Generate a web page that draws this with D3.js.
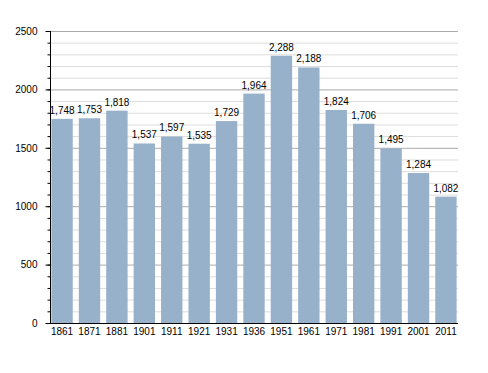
<!DOCTYPE html>
<html>
<head>
<meta charset="utf-8">
<script src="https://cdn.jsdelivr.net/npm/d3@7"></script>
<style>
  body { margin: 0; background: #fff; }
  text { font-family: "Liberation Sans", Arial, sans-serif; }
</style>
</head>
<body>
<svg width="488" height="373"></svg>
<script>
var years = ["1861", "1871", "1881", "1901", "1911", "1921", "1931", "1936", "1951", "1961", "1971", "1981", "1991", "2001", "2011"];
var population = [1748, 1753, 1818, 1537, 1597, 1535, 1729, 1964, 2288, 2188, 1824, 1706, 1495, 1284, 1082];
var yTicks = [0, 500, 1000, 1500, 2000, 2500];

var data = years.map(function(y, i) { return {year: y, value: population[i]}; });

var svg = d3.select("svg"),
    margin = {top: 31, right: 30, bottom: 50, left: 50},
    width = 458 - margin.left,
    height = 323 - margin.top,
    g = svg.append("g").attr("transform", "translate(" + margin.left + "," + margin.top + ")");

var x = d3.scaleBand().domain(years).range([0, width]).paddingInner(0.22).paddingOuter(0.05),
    y = d3.scaleLinear().domain([0, 2500]).range([height, 0]);

var fmt = d3.format(",");

// minor gridlines every 100
g.append("g")
  .selectAll("line")
  .data(d3.range(100, 2500, 100).filter(function(d) { return d % 500 !== 0; }))
  .enter().append("line")
    .attr("x1", 0).attr("x2", width)
    .attr("y1", function(d) { return y(d) + 0.5; })
    .attr("y2", function(d) { return y(d) + 0.5; })
    .attr("stroke", "#dddddd");

// major gridlines
g.append("g")
  .selectAll("line")
  .data(yTicks.slice(1))
  .enter().append("line")
    .attr("x1", 0).attr("x2", width)
    .attr("y1", function(d) { return y(d) + 0.5; })
    .attr("y2", function(d) { return y(d) + 0.5; })
    .attr("stroke", "#aaaaaa");

g.selectAll(".bar")
  .data(data)
  .enter().append("rect")
    .attr("class", "bar")
    .attr("x", function(d) { return x(d.year); })
    .attr("y", function(d) { return y(d.value); })
    .attr("width", x.bandwidth())
    .attr("height", function(d) { return height - y(d.value); })
    .attr("fill", "#98b1cb");

g.selectAll(".label")
  .data(data)
  .enter().append("text")
    .attr("class", "label")
    .attr("x", function(d) { return x(d.year) + x.bandwidth() / 2; })
    .attr("y", function(d) { return y(d.value) - 5; })
    .attr("text-anchor", "middle")
    .attr("font-size", "10px")
    .attr("fill", "#000")
    .text(function(d) { return fmt(d.value); });

// y axis: minor ticks
var yMinor = g.append("g")
    .attr("transform", "translate(0.5,0)")
    .call(d3.axisLeft(y).tickValues(d3.range(0, 2501, 100)).tickSize(3).tickFormat(""));
yMinor.select(".domain").remove();

var yAxis = g.append("g")
    .attr("transform", "translate(0.5,0)")
    .call(d3.axisLeft(y).tickValues(yTicks).tickSize(5).tickPadding(8).tickFormat(d3.format("d")));
yAxis.selectAll("text").attr("font-size", "10px").attr("font-family", "Liberation Sans, Arial, sans-serif").attr("fill", "#000");
yAxis.select(".domain").attr("d", "M0," + height + "V0");

var xAxis = g.append("g")
    .attr("transform", "translate(0," + (height + 0.5) + ")")
    .call(d3.axisBottom(x).tickSize(0).tickPadding(4));
xAxis.select(".domain").attr("d", "M0,0H" + width);
xAxis.selectAll("text").attr("font-size", "10px").attr("font-family", "Liberation Sans, Arial, sans-serif").attr("fill", "#000");
</script>
</body>
</html>
